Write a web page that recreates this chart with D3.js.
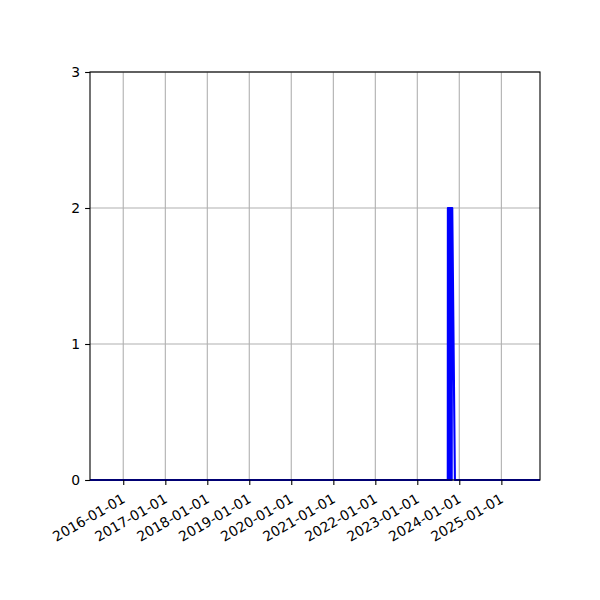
<!DOCTYPE html>
<html>
<head>
<meta charset="utf-8">
<script src="https://cdn.jsdelivr.net/npm/d3@7"></script>
<style>
  body { margin: 0; background: #fff; }
  text { font-family: "DejaVu Sans", sans-serif; font-size: 13.9px; fill: #000; }
</style>
</head>
<body>
<svg id="chart" width="600" height="600"></svg>
<script>
// series: dates and counts
var dates = [
    "2015-03-18", "2023-09-23", "2023-09-24", "2023-09-27", "2023-09-30",
    "2023-10-03", "2023-10-06", "2023-10-09", "2023-10-12", "2023-10-15",
    "2023-10-18", "2023-10-21", "2023-10-24", "2023-10-27", "2023-10-30",
    "2023-11-01", "2023-11-24", "2025-12-03"
];
var counts = [0, 0, 2, 0, 2, 0, 2, 0, 2, 0, 2, 0, 2, 0, 2, 2, 0, 0];
var xDomain = ["2015-03-18", "2025-12-03"];
var xTickLabels = ["2016-01-01", "2017-01-01", "2018-01-01", "2019-01-01", "2020-01-01",
                   "2021-01-01", "2022-01-01", "2023-01-01", "2024-01-01", "2025-01-01"];
var yTicks = [0, 1, 2, 3];

var parse = d3.timeParse("%Y-%m-%d");
var margin = {left: 90, right: 60, top: 72, bottom: 120};
var W = 600, H = 600;

var svg = d3.select("#chart");
var x = d3.scaleTime().domain(xDomain.map(parse)).range([margin.left, W - margin.right]);
var y = d3.scaleLinear().domain([0, 3]).range([H - margin.bottom, margin.top]);

var data = dates.map(function (d, i) { return {date: parse(d), value: counts[i]}; });

// grid
var grid = svg.append("g").attr("class", "grid");
grid.selectAll(".vg").data(xTickLabels).enter().append("line")
    .attr("x1", function (d) { return x(parse(d)); })
    .attr("x2", function (d) { return x(parse(d)); })
    .attr("y1", y(0)).attr("y2", y(3))
    .style("stroke", "#b0b0b0").style("stroke-width", 1.1);
grid.selectAll(".hg").data(yTicks).enter().append("line")
    .attr("x1", x.range()[0]).attr("x2", x.range()[1])
    .attr("y1", function (d) { return y(d); })
    .attr("y2", function (d) { return y(d); })
    .style("stroke", "#b0b0b0").style("stroke-width", 1.1);

// line
var line = d3.line()
    .x(function (d) { return x(d.date); })
    .y(function (d) { return y(d.value); });
svg.append("path").datum(data)
    .attr("d", line)
    .style("fill", "none")
    .style("stroke", "blue")
    .style("stroke-width", 2.1)
    .style("stroke-linejoin", "round");

// axes
var xAxis = d3.axisBottom(x)
    .tickValues(xTickLabels.map(parse))
    .tickFormat(d3.timeFormat("%Y-%m-%d"))
    .tickSize(4.9).tickPadding(4.9);
var gx = svg.append("g").attr("transform", "translate(0," + y(0) + ")").call(xAxis);
gx.select(".domain").remove();
gx.selectAll(".tick line").style("stroke", "#000").style("stroke-width", 1.1);
gx.selectAll(".tick text")
    .attr("font-size", null).attr("font-family", null)
    .style("text-anchor", "end")
    .attr("y", 0).attr("dy", "0.72em")
    .attr("transform", "translate(-2.5,13) rotate(-30)");

var yAxis = d3.axisLeft(y).tickValues(yTicks).tickFormat(d3.format("d"))
    .tickSize(4.9).tickPadding(4.9);
var gy = svg.append("g").attr("transform", "translate(" + x.range()[0] + ",0)").call(yAxis);
gy.select(".domain").remove();
gy.selectAll(".tick line").style("stroke", "#000").style("stroke-width", 1.1);
gy.selectAll(".tick text").attr("font-size", null).attr("font-family", null);

// frame
svg.append("rect")
    .attr("x", x.range()[0]).attr("y", y(3))
    .attr("width", x.range()[1] - x.range()[0])
    .attr("height", y(0) - y(3))
    .style("fill", "none").style("stroke", "#000").style("stroke-width", 1.1);
</script>
</body>
</html>
